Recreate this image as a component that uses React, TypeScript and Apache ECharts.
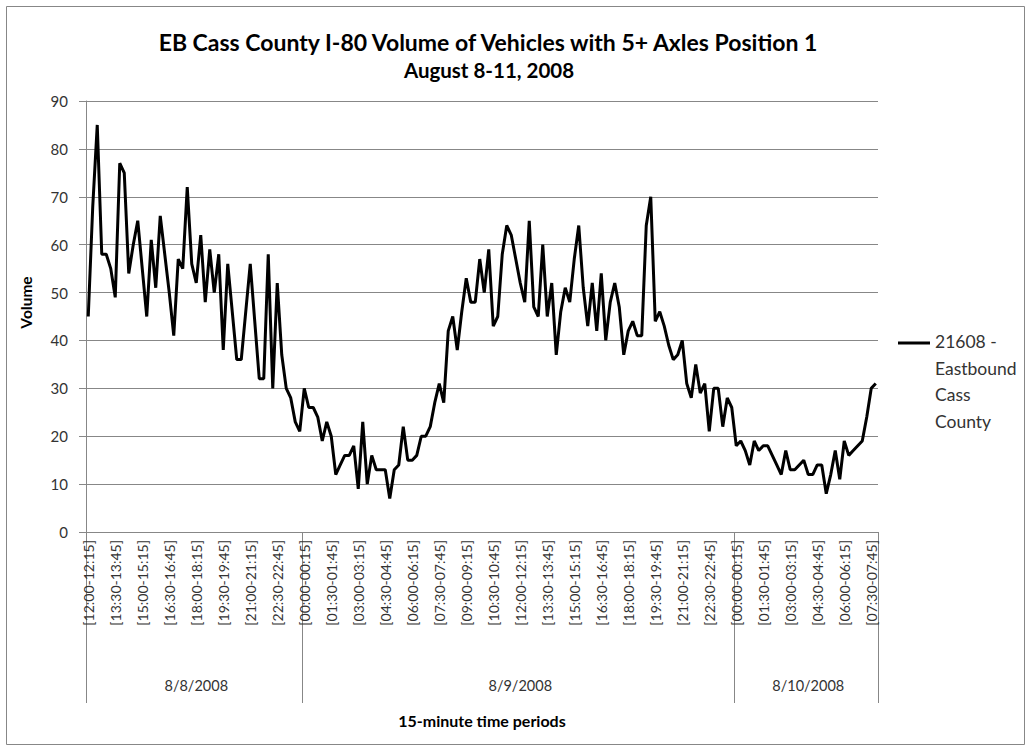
import React, { useEffect, useRef } from "react";
import * as echarts from "echarts";

// ---- data ----
const dayNames = ["8/8/2008", "8/9/2008", "8/10/2008"];
const dayFirstSlotMinutes = [720, 0, 0]; // start of the first 15-minute slot of each day
const vol_8_8 = [
  45, 68, 85, 58, 58, 55, 49, 77, 75, 54, 60, 65, 55, 45, 61, 51, 66, 58, 50, 41, 57, 55, 72, 56,
  52, 62, 48, 59, 50, 58, 38, 56, 46, 36, 36, 46, 56, 44, 32, 32, 58, 30, 52, 37, 30, 28, 23, 21,
];
const vol_8_9 = [
  30, 26, 26, 24, 19, 23, 20, 12, 14, 16, 16, 18, 9, 23, 10, 16, 13, 13, 13, 7, 13, 14, 22, 15,
  15, 16, 20, 20, 22, 27, 31, 27, 42, 45, 38, 46, 53, 48, 48, 57, 50, 59, 43, 45, 58, 64, 62, 57,
  52, 48, 65, 47, 45, 60, 45, 52, 37, 46, 51, 48, 57, 64, 51, 43, 52, 42, 54, 40, 48, 52, 47, 37,
  42, 44, 41, 41, 64, 70, 44, 46, 43, 39, 36, 37, 40, 31, 28, 35, 29, 31, 21, 30, 30, 22, 28, 26,
];
const vol_8_10 = [
  18, 19, 17, 14, 19, 17, 18, 18, 16, 14, 12, 17, 13, 13, 14, 15, 12, 12, 14, 14, 8, 12, 17, 11,
  19, 16, 17, 18, 19, 24, 30, 31,
];
const yTicks = [0, 10, 20, 30, 40, 50, 60, 70, 80, 90];
const titleLines = ["EB Cass County I-80 Volume of Vehicles with 5+ Axles Position 1", "August 8-11, 2008"];
const seriesName = "21608 - Eastbound Cass County";
const legendLines = ["21608 -", "Eastbound", "Cass", "County"];

const dayValues = [vol_8_8, vol_8_9, vol_8_10];

const pad = (n: number) => (n < 10 ? "0" + n : "" + n);
const fmt = (m: number) => pad(Math.floor(m / 60) % 24) + ":" + pad(m % 60);

const categories: string[] = [];
const values: number[] = [];
const dayStartIdx: number[] = [];
const dayMidIdx: Record<number, string> = {};
dayValues.forEach((arr, d) => {
  const start = categories.length;
  dayStartIdx.push(start);
  arr.forEach((v, k) => {
    const m = dayFirstSlotMinutes[d] + k * 15;
    categories.push("[" + fmt(m) + "-" + fmt(m + 15) + "]");
    values.push(v);
  });
  dayMidIdx[start + Math.floor(arr.length / 2)] = dayNames[d];
});

const FONT = "Lato, 'Liberation Sans', sans-serif";
const GRAY = "#878787";
const TXT = "#333333";

export default function App() {
  const ref = useRef<HTMLDivElement>(null);
  useEffect(() => {
    if (!ref.current) return;
    const chart = echarts.init(ref.current, null, { renderer: "svg" });
    chart.setOption({
      animation: false,
      backgroundColor: "#ffffff",
      textStyle: { fontFamily: FONT },
      title: [
        {
          text: titleLines[0],
          left: 483,
          top: 23,
          textAlign: "center",
          textStyle: { fontFamily: FONT, fontSize: 23, fontWeight: "bold", color: "#000", lineHeight: 28 },
        },
        {
          text: titleLines[1],
          left: 484,
          top: 51,
          textAlign: "center",
          textStyle: { fontFamily: FONT, fontSize: 20.5, fontWeight: "bold", color: "#000", lineHeight: 28 },
        },
      ],
      legend: {
        show: true,
        orient: "vertical",
        left: 898,
        top: 328.5,
        padding: 0,
        icon: "path://M0,0L32,0L32,3L0,3Z M0,79.99L0.01,79.99L0.01,80L0,80Z",
        itemWidth: 32,
        itemHeight: 80,
        data: [seriesName],
        formatter: () => legendLines.join("\n"),
        textStyle: {
          fontFamily: FONT,
          fontSize: 17.5,
          color: TXT,
          lineHeight: 26.5,
        },
      },
      graphic: [
        {
          type: "rect",
          shape: { x: 6.5, y: 6.5, width: 1018, height: 738 },
          style: { fill: "none", stroke: GRAY, lineWidth: 1 },
          silent: true,
          z: -10,
        },
      ],
      grid: {
        left: 86,
        right: 150,
        top: 101,
        bottom: 219,
        outerBoundsMode: "none",
        containLabel: false,
      },
      xAxis: [
        {
          type: "category",
          data: categories,
          boundaryGap: true,
          position: "bottom",
          axisLine: { show: true, lineStyle: { color: GRAY, width: 1 } },
          axisTick: { show: false },
          splitLine: { show: false },
          axisLabel: {
            interval: 5,
            rotate: 90,
            margin: 8,
            fontSize: 14,
            color: TXT,
            fontFamily: FONT,
          },
        },
        {
          type: "category",
          data: categories,
          boundaryGap: true,
          position: "bottom",
          axisLine: { show: false },
          axisTick: {
            show: true,
            interval: (i: number) => dayStartIdx.indexOf(i) >= 0,
            length: 171,
            lineStyle: { color: GRAY, width: 1 },
          },
          splitLine: { show: false },
          axisLabel: {
            interval: (i: number) => dayMidIdx[i] !== undefined,
            formatter: (_v: string, i: number) => dayMidIdx[i] || "",
            margin: 146,
            fontSize: 14.5,
            color: TXT,
            fontFamily: FONT,
          },
          name: "15-minute time periods",
          nameLocation: "middle",
          nameGap: 180,
          nameTextStyle: { fontFamily: FONT, fontSize: 16, fontWeight: "bold", color: "#000" },
        },
      ],
      yAxis: {
        type: "value",
        min: yTicks[0],
        max: yTicks[yTicks.length - 1],
        interval: yTicks[1] - yTicks[0],
        axisLine: { show: true, lineStyle: { color: GRAY, width: 1 } },
        axisTick: { show: true, length: 7, lineStyle: { color: GRAY } },
        splitLine: { show: true, lineStyle: { color: GRAY, width: 1 } },
        axisLabel: { margin: 18, fontSize: 15, color: TXT, fontFamily: FONT },
        name: "Volume",
        nameLocation: "middle",
        nameRotate: 90,
        nameGap: 52,
        nameTextStyle: {
          fontFamily: FONT,
          fontSize: 15.5,
          fontWeight: "bold",
          color: "#000",
          padding: [0, 0, 0, 28],
        },
      },
      series: [
        {
          name: seriesName,
          type: "line",
          data: values,
          xAxisIndex: 0,
          showSymbol: false,
          symbol: "none",
          smooth: false,
          lineStyle: { color: "#000", width: 3 },
          itemStyle: { color: "#000" },
        },
      ],
    });
    return () => chart.dispose();
  }, []);
  return (
    <div
      ref={ref}
      style={{ position: "absolute", left: 0, top: 0, width: 1028, height: 751 }}
    />
  );
}
